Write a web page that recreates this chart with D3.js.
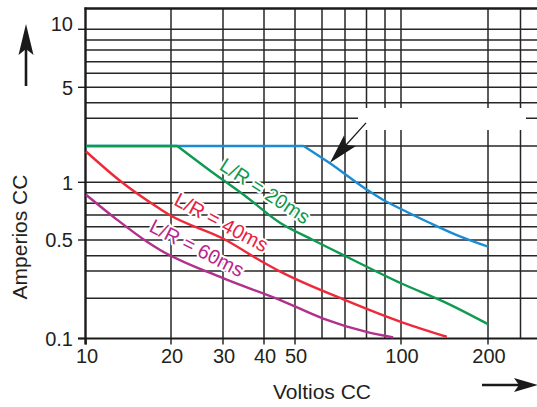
<!DOCTYPE html>
<html>
<head>
<meta charset="utf-8">
<script src="https://cdn.jsdelivr.net/npm/d3@7"></script>
<style>
  body { margin: 0; background: #fff; }
  svg { display: block; }
  text { font-family: "Liberation Sans", Arial, Helvetica, sans-serif; fill: #231f20; }
</style>
</head>
<body>
<svg id="chart" width="537" height="407"></svg>
<script>
// Grid and tick values
const voltGrid = [10, 20, 30, 40, 50, 60, 70, 80, 90, 100, 200, 300];
const voltTicks = [10, 20, 30, 40, 50, 100, 200];
const ampGrid = [0.1, 0.2, 0.3, 0.4, 0.5, 0.6, 0.7, 0.8, 0.9, 1, 2, 3, 4, 5, 6, 7, 8, 9, 10];
const ampTicks = [0.1, 0.5, 1, 5, 10];

// Breaking-capacity curves (volts DC, amps DC)
const resVolts = [10, 53, 63, 80, 89, 100, 126, 156, 200];
const resAmps  = [2, 2, 1.45, 0.93, 0.83, 0.75, 0.63, 0.535, 0.455];

const lr20Volts = [10, 21, 27, 35, 45, 56.5, 71, 100, 144, 200];
const lr20Amps  = [2, 2, 1.26, 0.87, 0.63, 0.5, 0.39, 0.25, 0.184, 0.128];

const lr40Volts = [10, 13.4, 18.3, 19.8, 30, 40, 45, 69, 102, 144];
const lr40Amps  = [1.8, 1.0, 0.75, 0.7, 0.51, 0.35, 0.297, 0.197, 0.131, 0.103];

const lr60Volts = [10, 12.7, 16.5, 18.3, 30, 45, 60.5, 80, 95];
const lr60Amps  = [0.88, 0.67, 0.486, 0.434, 0.27, 0.194, 0.141, 0.112, 0.102];

const seriesLabels = ["L/R = 20ms", "L/R = 40ms", "L/R = 60ms"];
// where each label sits (volts, amps) and its slant in degrees
const labelVolts = [39.3, 28.9, 23.9];
const labelAmps  = [0.861, 0.587, 0.41];
const labelAngles = [33, 28, 27];

// Point on the resistive curve that the note arrow designates
const noteVolt = 63.3, noteAmp = 1.45;

const svg = d3.select("#chart");
const plotLeft = 85.5, plotRight = 537, plotTop = 8.5, plotBottom = 338.5;

// Log scales laid out on the printed (non-uniform) grid spacing
const x = d3.scaleLog().domain(voltGrid)
  .range([86, 171, 223, 264, 295, 322, 345, 366.5, 385, 401, 488, 520.5]);
const y = d3.scaleLog().domain(ampGrid)
  .range([338.5, 298.3, 271, 255.7, 240, 226.7, 215, 203.3, 192.7, 182.3, 146, 118.3, 102.7, 87.3, 73.3, 61.7, 50, 40, 29.3]);

const gridG = svg.append("g").attr("stroke", "#262626").attr("stroke-width", 1.5);
gridG.selectAll("line.v").data(voltGrid.filter(v => v > 10)).join("line")
  .attr("x1", d => x(d)).attr("x2", d => x(d))
  .attr("y1", plotTop).attr("y2", plotBottom);
gridG.selectAll("line.h").data(ampGrid.filter(a => a > 0.1)).join("line")
  .attr("x1", plotLeft).attr("x2", plotRight)
  .attr("y1", d => y(d)).attr("y2", d => y(d));

// blank note area
svg.append("rect").attr("x", 358).attr("y", 108).attr("width", 168).attr("height", 22).attr("fill", "#fff");

// frame
svg.append("line").attr("x1", plotLeft - 1).attr("x2", plotRight).attr("y1", plotTop).attr("y2", plotTop)
  .attr("stroke", "#1a1a1a").attr("stroke-width", 2.6);
svg.append("line").attr("x1", plotLeft).attr("x2", plotLeft).attr("y1", plotTop - 1).attr("y2", plotBottom + 6)
  .attr("stroke", "#1a1a1a").attr("stroke-width", 2.4);
svg.append("line").attr("x1", 78).attr("x2", plotRight).attr("y1", plotBottom).attr("y2", plotBottom)
  .attr("stroke", "#1a1a1a").attr("stroke-width", 2.2);

// ticks and tick labels
svg.append("g").selectAll("line").data(ampTicks).join("line")
  .attr("x1", 78).attr("x2", plotLeft).attr("y1", d => y(d)).attr("y2", d => y(d))
  .attr("stroke", "#1a1a1a").attr("stroke-width", 1.4);
svg.append("g").selectAll("line").data(voltTicks).join("line")
  .attr("x1", d => x(d)).attr("x2", d => x(d)).attr("y1", plotBottom).attr("y2", plotBottom + 6)
  .attr("stroke", "#1a1a1a").attr("stroke-width", 1.4);

svg.append("g").selectAll("text").data(ampTicks).join("text")
  .attr("x", 73).attr("y", d => y(d) - (d === 10 ? 6 : 0))
  .attr("dy", "0.36em").attr("text-anchor", "end")
  .attr("font-size", 20).text(d => String(d));
svg.append("g").selectAll("text").data(voltTicks).join("text")
  .attr("x", d => x(d) + 1).attr("y", 363)
  .attr("text-anchor", "middle").attr("font-size", 20).text(d => d);

// axis titles
svg.append("text").attr("transform", "translate(27,237) rotate(-90)")
  .attr("text-anchor", "middle").attr("font-size", 21).text("Amperios CC");
svg.append("text").attr("x", 322).attr("y", 399)
  .attr("text-anchor", "middle").attr("font-size", 21).text("Voltios CC");

// curves: straight flat segment up to the first knee, smooth decay after it
const straight = d3.line().x(d => x(d[0])).y(d => y(d[1]));
const smooth = d3.line().x(d => x(d[0])).y(d => y(d[1])).curve(d3.curveMonotoneX);
const kneed = pts => straight(pts.slice(0, 2)) + smooth(pts.slice(1));
const zip = (a, b) => a.map((v, i) => [v, b[i]]);
const curves = [
  { pts: zip(resVolts, resAmps),   color: "#1b8cd3", gen: kneed },
  { pts: zip(lr20Volts, lr20Amps), color: "#0e9a50", gen: kneed },
  { pts: zip(lr40Volts, lr40Amps), color: "#ee2a3a", gen: smooth },
  { pts: zip(lr60Volts, lr60Amps), color: "#b2308b", gen: smooth }
];
svg.append("g").selectAll("path").data(curves).join("path")
  .attr("d", d => d.gen(d.pts)).attr("fill", "none")
  .attr("stroke", d => d.color).attr("stroke-width", 2.4)
  .attr("stroke-linejoin", "round");

// curve labels with white halo, resting just above their curves
const labelColors = ["#0e9a50", "#e8213f", "#b8268d"];
svg.append("g").selectAll("text").data(seriesLabels).join("text")
  .attr("transform", (d, i) => `translate(${x(labelVolts[i])},${y(labelAmps[i])}) rotate(${labelAngles[i]})`)
  .attr("text-anchor", "middle").attr("y", -7).attr("dy", "0.36em").attr("font-size", 20)
  .style("fill", (d, i) => labelColors[i])
  .attr("stroke", "#fff").attr("stroke-width", 4).attr("stroke-linejoin", "round")
  .attr("paint-order", "stroke").text(d => d);

// arrow helper: filled head with a notched back
function arrowHead(tx, ty, ux, uy, len, half, notch) {
  const px = -uy, py = ux;
  return `M${tx},${ty}L${tx - len * ux + half * px},${ty - len * uy + half * py}` +
         `L${tx - notch * ux},${ty - notch * uy}` +
         `L${tx - len * ux - half * px},${ty - len * uy - half * py}Z`;
}
function arrow(x0, y0, x1, y1, w, len, half, notch) {
  const d = Math.hypot(x1 - x0, y1 - y0), ux = (x1 - x0) / d, uy = (y1 - y0) / d;
  const g = svg.append("g");
  g.append("line").attr("x1", x0).attr("y1", y0)
    .attr("x2", x1 - ux * notch).attr("y2", y1 - uy * notch)
    .attr("stroke", "#1a1a1a").attr("stroke-width", w);
  g.append("path").attr("d", arrowHead(x1, y1, ux, uy, len, half, notch)).attr("fill", "#1a1a1a");
}

// note arrow onto the resistive curve
const nx = x(noteVolt), ny = y(noteAmp);
arrow(nx + 36, ny - 40, nx, ny, 1.3, 30, 8, 24);

// axis direction arrows
arrow(26, 86, 26, 24, 2.6, 31, 7.5, 25);
arrow(482, 385, 538, 385, 2.6, 24, 7, 19);
</script>
</body>
</html>
